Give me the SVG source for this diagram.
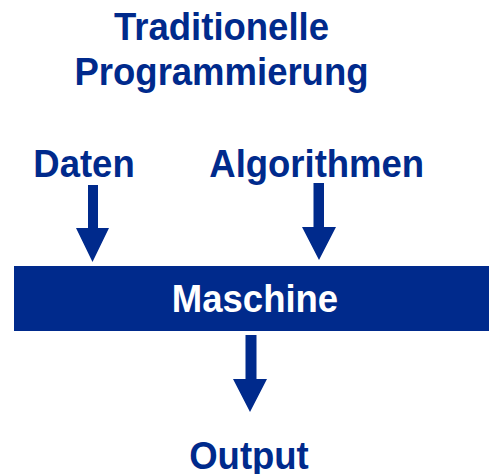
<svg xmlns="http://www.w3.org/2000/svg" width="489" height="474" viewBox="0 0 489 474">
  <style>
    .lbl { font-family: "Liberation Sans", Arial, sans-serif; font-weight: bold; font-size: 36.5px; fill: #002A8C; text-anchor: middle; }
    .inv { fill: #FFFFFF; }
    .arrow { fill: #002A8C; }
  </style>
  <rect width="489" height="474" fill="#FFFFFF"/>

  <!-- labels are drawn at the origin and placed by transform, slightly stretched vertically -->
  <g id="title">
    <text class="lbl" transform="translate(221.5,40) scale(1,1.08)">Traditionelle</text>
    <text class="lbl" transform="translate(221.5,85) scale(1,1.08)">Programmierung</text>
  </g>

  <g id="daten">
    <text class="lbl" transform="translate(84,177) scale(1,1.08)">Daten</text>
  </g>

  <g id="algorithmen">
    <text class="lbl" transform="translate(316.7,177) scale(1,1.08)">Algorithmen</text>
  </g>

  <g id="maschine">
    <rect x="14" y="266" width="475" height="65" fill="#002A8C"/>
    <text class="lbl inv" transform="translate(255,312) scale(1,1.06)">Maschine</text>
  </g>

  <g id="output">
    <text class="lbl" transform="translate(249,469) scale(1,1.08)">Output</text>
  </g>

  <g id="connectors">
    <polygon class="arrow" points="88,185 98,185 98,228 109,228 92.5,262 76,228 88,228"/>
    <polygon class="arrow" points="313.5,183 324,183 324,227 336,227 319,260 302,227 313.5,227"/>
    <polygon class="arrow" points="245.5,335 256.5,335 256.5,379 267,379 250,412 233,379 245.5,379"/>
  </g>
</svg>
